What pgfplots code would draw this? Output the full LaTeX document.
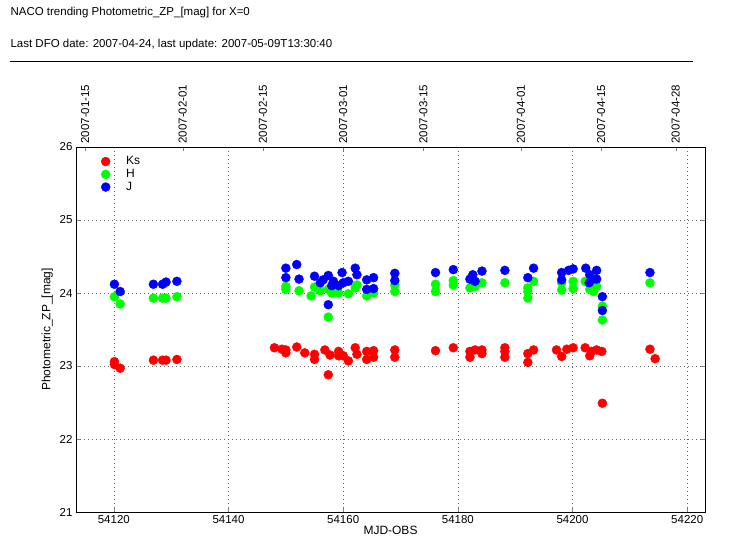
\documentclass[border=0pt]{standalone}
\usepackage{fontspec}
\setmainfont{Liberation Sans}
\usepackage{pgfplots}
\pgfplotsset{compat=1.18}
\begin{document}
\begin{tikzpicture}
\path (0pt,0pt) rectangle (730pt,554pt);
\node[anchor=west,font=\fontsize{11.5}{14}\selectfont] at (7pt,541pt) {NACO trending Photometric\_ZP\_[mag] for X=0};
\node[anchor=west,font=\fontsize{11.5}{14}\selectfont] at (7pt,509pt) {Last DFO date: 2007-04-24, last update: 2007-05-09T13:30:40};
\draw (10pt,493pt) -- (693pt,493pt);
\begin{axis}[at={(76pt,42pt)},anchor=south west,scale only axis,width=629pt,height=365pt,
 xmin=54113.4,xmax=54223.1,ymin=21,ymax=26,
 xtick={54120,54140,54160,54180,54200,54220},
 ytick={21,22,23,24,25,26},
 scaled x ticks=false,
 xticklabel style={/pgf/number format/1000 sep={},/pgf/number format/fixed,/pgf/number format/precision=0},
 /pgf/number format/assume math mode=true,
 tick label style={font=\fontsize{11.5}{13}\selectfont},
 label style={font=\fontsize{12}{14}\selectfont},
 xlabel={MJD-OBS},ylabel={Photometric\_ZP\_[mag]},
 xlabel style={yshift=4pt},
 grid=major,grid style={dash pattern=on 1pt off 3pt,gray!80!black},
 tick align=inside, xtick pos=bottom, ytick pos=left,
 legend style={at={(0.035,0.985)},anchor=north west,draw=none,fill=none,font=\fontsize{12}{14}\selectfont,row sep=-1pt},
 legend cell align=left,
 legend image code/.code={\path[draw=none] (0cm,0cm) -- (0.75cm,0cm); \draw[only marks] plot coordinates {(0.1cm,0cm)};},
]
\addplot[only marks,mark=*,mark size=4.5pt,red,mark options={draw=red,fill=red}] coordinates {
(54120.1,23.06)(54120.1,23.02)(54121.1,22.97)
(54126.9,23.08)(54128.5,23.08)(54129.1,23.08)(54131.0,23.09)
(54148,23.25)(54149.3,23.23)(54150,23.18)(54150,23.22)(54151.9,23.26)(54153.3,23.18)(54155,23.09)(54155,23.16)(54156.8,23.22)(54157.4,22.88)(54157.7,23.15)(54159.2,23.14)(54159.2,23.2)(54160,23.14)(54160.9,23.07)(54162.1,23.25)(54162.4,23.16)(54164.1,23.2)(54164.1,23.09)(54165.3,23.21)(54165.3,23.12)
(54169.0,23.22)(54169.0,23.12)(54176.1,23.21)(54179.2,23.25)
(54182.1,23.2)(54182.1,23.12)(54183,23.22)(54184.2,23.22)(54184.2,23.17)
(54188.2,23.25)(54188.2,23.2)(54188.2,23.12)
(54192.2,23.17)(54192.2,23.05)(54193.2,23.22)
(54197.2,23.22)(54198.1,23.13)(54199,23.23)(54200.1,23.25)
(54202.2,23.25)(54203,23.14)(54203.3,23.2)(54204.2,23.22)(54205.1,23.2)(54205.2,22.49)
(54213.5,23.23)(54214.4,23.1)};
\addlegendentry{Ks}
\addplot[only marks,mark=*,mark size=4.5pt,green,mark options={draw=green,fill=green}] coordinates {
(54120.1,23.95)(54121.1,23.85)
(54126.9,23.93)(54128.5,23.93)(54129.1,23.93)(54131.0,23.95)
(54150,24.09)(54150,24.05)(54152.3,24.03)(54154.4,23.96)(54155,24.08)(54156,24.03)(54157.4,24.05)(54158,24.0)(54159.2,24.0)(54160.9,23.99)(54162.1,24.07)(54162.4,24.11)(54164.1,23.96)(54165.3,24.0)(54157.4,23.67)
(54169.0,24.11)(54169.0,24.02)(54176.1,24.12)(54176.1,24.02)(54179.2,24.17)(54179.2,24.11)
(54182.1,24.07)(54183,24.09)(54184.2,24.14)(54188.2,24.14)
(54192.2,24.07)(54192.2,24.02)(54192.2,23.93)(54193.2,24.16)
(54198.1,24.14)(54198.1,24.04)(54200.1,24.16)(54200.1,24.06)
(54202.2,24.16)(54203,24.05)(54204.2,24.09)(54203.7,24.02)(54205.2,23.82)(54205.2,23.63)
(54213.5,24.14)};
\addlegendentry{H}
\addplot[only marks,mark=*,mark size=4.5pt,blue,mark options={draw=blue,fill=blue}] coordinates {
(54120.1,24.12)(54121.1,24.02)
(54126.9,24.12)(54128.5,24.12)(54129.1,24.15)(54131.0,24.16)
(54150,24.34)(54151.9,24.39)(54150,24.21)(54152.3,24.19)(54155,24.23)(54156.5,24.18)(54157.4,24.24)(54158.3,24.16)(54159.8,24.28)(54160,24.14)(54160.9,24.16)(54162.1,24.34)(54162.4,24.25)(54164.1,24.18)(54165.3,24.21)(54164.1,24.05)(54165.3,24.06)(54157.4,23.84)(54158,24.1)(54159.2,24.1)(54156,24.14)
(54169.0,24.27)(54169.0,24.17)(54176.1,24.28)(54179.2,24.32)
(54182.1,24.19)(54182.6,24.25)(54183,24.16)(54184.2,24.30)(54188.2,24.31)
(54192.2,24.21)(54193.2,24.34)
(54198.1,24.28)(54198.1,24.18)(54199.3,24.31)(54200.1,24.33)
(54202.3,24.34)(54203,24.25)(54204.2,24.31)(54202.9,24.14)(54204.2,24.19)(54203.6,24.19)(54205.2,23.95)(54205.2,23.76)
(54213.5,24.28)};
\addlegendentry{J}
\end{axis}
\begin{axis}[at={(76pt,42pt)},anchor=south west,scale only axis,width=629pt,height=365pt,
 xmin=54113.4,xmax=54223.1,ymin=21,ymax=26,
 xtick pos=top, ytick pos=right, tick align=inside, ytick={21,22,23,24,25,26}, yticklabels={},
 scaled x ticks=false,
 xtick={54115,54132,54146,54160,54174,54191,54205,54218},
 xticklabels={2007-01-15,2007-02-01,2007-02-15,2007-03-01,2007-03-15,2007-04-01,2007-04-15,2007-04-28},
 xticklabel style={rotate=90,anchor=west,font=\fontsize{11.5}{13}\selectfont},
]
\addplot[draw=none] coordinates {(54120,23)};
\end{axis}
\end{tikzpicture}
\end{document}
